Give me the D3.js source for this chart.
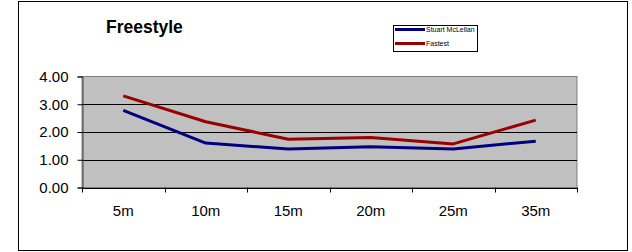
<!DOCTYPE html>
<html>
<head>
  <meta charset="utf-8">
  <title>Freestyle</title>
  <style>
    body { margin: 0; background: #fff; }
    svg text { font-family: "Liberation Sans", Arial, sans-serif; }
  </style>
</head>
<body>
<script src="https://cdnjs.cloudflare.com/ajax/libs/d3/7.8.5/d3.min.js"></script>
<div id="vis"></div>
<script>

var distances = ["5m", "10m", "15m", "20m", "25m", "35m"];
var stuart = [2.78, 1.60, 1.39, 1.47, 1.39, 1.67];
var fastest = [3.30, 2.37, 1.74, 1.80, 1.57, 2.43];
var yTicks = [0, 1, 2, 3, 4];

var series = [
  {name: "Stuart McLellan", values: stuart, color: "#000080"},
  {name: "Fastest", values: fastest, color: "#990000"}
];

var W = 632, H = 252;
var pLeft = 82, pRight = 577, pTop = 76.5, pBottom = 187.5;

var svg = d3.select("div#vis").append("svg")
  .attr("width", W)
  .attr("height", H);

// outer frame
svg.append("rect")
  .attr("x", 18.5).attr("y", 1.5)
  .attr("width", 609).attr("height", 249)
  .attr("fill", "#fff").attr("stroke", "#000").attr("stroke-width", 1);

var x = d3.scaleBand().domain(distances).range([pLeft, pRight]);
var y = d3.scaleLinear().domain([0, 4]).range([pBottom, pTop]);

// plot area
svg.append("rect")
  .attr("x", pLeft).attr("y", pTop)
  .attr("width", pRight - pLeft).attr("height", pBottom - pTop)
  .attr("fill", "#c0c0c0").attr("stroke", "#808080");

// gridlines
svg.selectAll("line.grid").data(yTicks.filter(function(d) { return d > 0 && d < 4; }))
  .enter().append("line")
  .attr("class", "grid")
  .attr("x1", pLeft).attr("x2", pRight)
  .attr("y1", function(d) { return Math.round(y(d)) + 0.5; })
  .attr("y2", function(d) { return Math.round(y(d)) + 0.5; })
  .attr("stroke", "#000");

// y axis
var yAxis = d3.axisLeft(y).tickValues(yTicks).tickSize(5).tickPadding(9)
  .tickFormat(d3.format(".2f"));
svg.append("g")
  .attr("transform", "translate(" + (pLeft + 0.5) + ",0)")
  .call(yAxis)
  .call(function(g) {
    g.select(".domain").attr("stroke", "#404040");
    g.selectAll(".tick line").attr("stroke", "#000");
    g.selectAll("text").attr("font-size", 15).attr("fill", "#000")
      .attr("font-family", "'Liberation Sans', Arial, sans-serif");
  });

// x axis with ticks between categories
var xAxis = d3.axisBottom(x).tickSize(0).tickPadding(17);
svg.append("g")
  .attr("transform", "translate(0," + (pBottom + 0.5) + ")")
  .call(xAxis)
  .call(function(g) {
    g.select(".domain").attr("stroke", "#000");
    g.selectAll("text").attr("font-size", 15).attr("fill", "#000")
      .attr("font-family", "'Liberation Sans', Arial, sans-serif");
  });

var bounds = distances.map(function(d) { return x(d); }).concat([pRight]);
svg.selectAll("line.xtick").data(bounds).enter().append("line")
  .attr("class", "xtick")
  .attr("x1", function(d) { return Math.round(d) + 0.5; })
  .attr("x2", function(d) { return Math.round(d) + 0.5; })
  .attr("y1", pBottom).attr("y2", pBottom + 5)
  .attr("stroke", "#000");

// lines
var line = d3.line()
  .x(function(d, i) { return x(distances[i]) + x.bandwidth() / 2; })
  .y(function(d) { return y(d); });

svg.selectAll("path.series").data(series).enter().append("path")
  .attr("class", "series")
  .attr("d", function(s) { return line(s.values); })
  .attr("fill", "none")
  .attr("stroke", function(s) { return s.color; })
  .attr("stroke-width", 3)
  .attr("stroke-linejoin", "round");

// title
svg.append("text")
  .attr("x", 106).attr("y", 33)
  .attr("font-size", 17.5).attr("font-weight", "bold")
  .text("Freestyle");

// legend
var lg = svg.append("g").attr("transform", "translate(393,25)");
lg.append("rect")
  .attr("x", 0.5).attr("y", 0.5).attr("width", 84).attr("height", 26)
  .attr("fill", "#fff").attr("stroke", "#000");
var items = lg.selectAll("g.item").data(series).enter().append("g")
  .attr("class", "item")
  .attr("transform", function(d, i) { return "translate(0," + (4.5 + i * 14) + ")"; });
items.append("line")
  .attr("x1", 2).attr("x2", 32).attr("y1", 0).attr("y2", 0)
  .attr("stroke", function(d) { return d.color; }).attr("stroke-width", 3);
items.append("text")
  .attr("x", 33).attr("y", 2.5)
  .attr("font-size", 7)
  .text(function(d) { return d.name; });

</script>
</body>
</html>
